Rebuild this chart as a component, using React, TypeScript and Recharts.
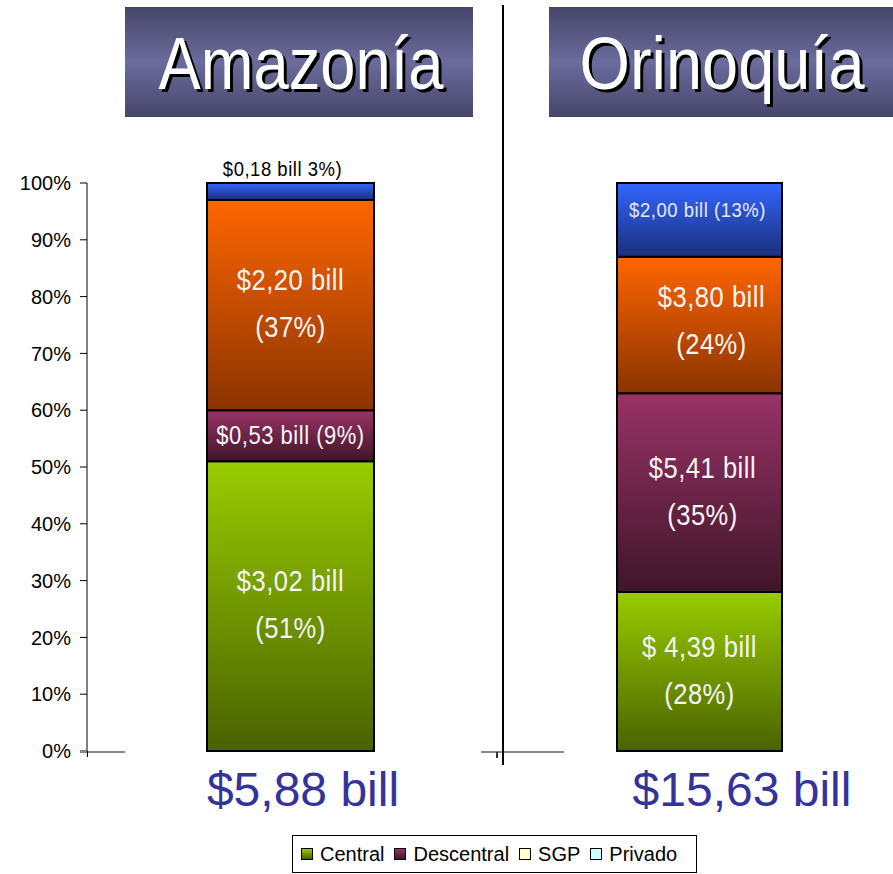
import React from "react";
import { BarChart, Bar, XAxis, YAxis } from "recharts";

const regions = ["Amazonía", "Orinoquía"];
const totals = ["$5,88 bill", "$15,63 bill"];

const centralPct = [51, 28];
const descentralPct = [9, 35];
const sgpPct = [37, 24];
const privadoPct = [3, 13];

const centralBill = ["$3,02 bill", "$ 4,39 bill"];
const descentralBill = ["$0,53 bill", "$5,41 bill"];
const sgpBill = ["$2,20 bill", "$3,80 bill"];
const privadoBill = ["$0,18 bill", "$2,00 bill"];

const yTicks = [0, 10, 20, 30, 40, 50, 60, 70, 80, 90, 100];

const SANS = '"Liberation Sans", Arial, sans-serif';

type SeriesDef = {
  key: string;
  name: string;
  values: number[];
  bills: string[];
  top: string;
  bottom: string;
  legend: string;
};

const series: SeriesDef[] = [
  { key: "central", name: "Central", values: centralPct, bills: centralBill, top: "#99cc00", bottom: "#4a6200", legend: "" },
  { key: "descentral", name: "Descentral", values: descentralPct, bills: descentralBill, top: "#993366", bottom: "#3f1529", legend: "" },
  { key: "sgp", name: "SGP", values: sgpPct, bills: sgpBill, top: "#ff6600", bottom: "#8a3300", legend: "#ffffcc" },
  { key: "privado", name: "Privado", values: privadoPct, bills: privadoBill, top: "#3366ff", bottom: "#1a2f78", legend: "#ccffff" },
];

type Layout = { mode: "two" | "one" | "above"; size: number; dx?: number; dy?: number; color?: string };

const labelLayout: Record<string, Layout>[] = [
  {
    central: { mode: "two", size: 29 },
    descentral: { mode: "one", size: 25 },
    sgp: { mode: "two", size: 29 },
    privado: { mode: "above", size: 21, dx: -8, color: "#000" },
  },
  {
    central: { mode: "two", size: 29 },
    descentral: { mode: "two", size: 29, dx: 3 },
    sgp: { mode: "two", size: 29, dx: 12, dy: -3 },
    privado: { mode: "one", size: 21, dx: -2, dy: -10, color: "#e6eaff" },
  },
];

// narrow-ish label text: Arial metrics squeezed horizontally
const Txt = ({ x, y, size, fill, children }: any) => (
  <text
    transform={`translate(${x},${y}) scale(0.88,1)`}
    textAnchor="middle"
    dominantBaseline="central"
    fill={fill}
    letterSpacing={0.6}
    style={{ fontFamily: SANS, fontSize: size }}>
    {children}
  </text>
);

const makeLabel = (r: number, s: SeriesDef) => (props: any) => {
  const { x, y, width, height } = props;
  const lay = labelLayout[r][s.key];
  const cx = Number(x) + Number(width) / 2 + (lay.dx || 0);
  const cy = Number(y) + Number(height) / 2 + (lay.dy || 0);
  const bill = s.bills[r];
  const pct = s.values[r];
  const fill = lay.color || "#f6f6f6";
  if (lay.mode === "two") {
    return (
      <g>
        <Txt x={cx} y={cy - 25} size={lay.size} fill={fill}>{bill}</Txt>
        <Txt x={cx} y={cy + 22} size={lay.size} fill={fill}>{`(${pct}%)`}</Txt>
      </g>
    );
  }
  if (lay.mode === "one") {
    return <Txt x={cx} y={cy} size={lay.size} fill={fill}>{`${bill} (${pct}%)`}</Txt>;
  }
  return <Txt x={cx} y={Number(y) - 14} size={lay.size} fill={fill}>{`${bill} ${pct}%)`}</Txt>;
};

const RegionChart = ({ r, showAxis }: { r: number; showAxis: boolean }) => {
  const row: Record<string, any> = { region: regions[r] };
  series.forEach((s) => {
    row[s.key] = s.values[r];
  });
  return (
    <BarChart
      width={showAxis ? 494 : 187}
      height={760}
      data={[row]}
      margin={{ top: 183, right: 0, bottom: 9, left: 0 }}
      barSize={showAxis ? 167 : 165}>
      <defs>
        {series.map((s) => (
          <linearGradient key={s.key} id={`g${r}-${s.key}`} x1="0" y1="0" x2="0" y2="1">
            <stop offset="0%" stopColor={s.top} />
            <stop offset="100%" stopColor={s.bottom} />
          </linearGradient>
        ))}
      </defs>
      <XAxis dataKey="region" hide />
      <YAxis
        hide={!showAxis}
        domain={[0, 100]}
        ticks={yTicks}
        interval={0}
        width={87}
        tickFormatter={(v) => `${v}%`}
        axisLine={{ stroke: "#000" }}
        tickLine={{ stroke: "#000" }}
        tickSize={7}
        tickMargin={9}
        tick={{ fill: "#000", fontSize: 20, fontFamily: SANS }}
      />
      {series.map((s) => (
        <Bar
          key={s.key}
          dataKey={s.key}
          stackId="a"
          fill={`url(#g${r}-${s.key})`}
          stroke="#000"
          strokeWidth={2}
          isAnimationActive={false}
          label={makeLabel(r, s)}
        />
      ))}
    </BarChart>
  );
};

const App = () => {
  return (
    <div
      style={{
        position: "absolute",
        left: 0,
        top: 0,
        width: 893,
        height: 874,
        overflow: "hidden",
        background: "#fff",
        fontFamily: SANS,
      }}>
      <div style={{ position: "absolute", left: 0, top: 0 }}>
        <RegionChart r={0} showAxis />
      </div>
      <div style={{ position: "absolute", left: 606, top: 0 }}>
        <RegionChart r={1} showAxis={false} />
      </div>

      {/* short category axis stubs + divider */}
      <div style={{ position: "absolute", left: 80, top: 751, width: 45, height: 2, background: "#888" }} />
      <div style={{ position: "absolute", left: 87, top: 751, width: 1, height: 6, background: "#000" }} />
      <div style={{ position: "absolute", left: 481, top: 751, width: 83, height: 2, background: "#888" }} />
      <div style={{ position: "absolute", left: 496, top: 752, width: 2, height: 6, background: "#333" }} />
      <div style={{ position: "absolute", left: 502, top: 5, width: 2, height: 760, background: "#000" }} />

      <svg
        width={893}
        height={874}
        style={{ position: "absolute", left: 0, top: 0, pointerEvents: "none" }}>
        <defs>
          <linearGradient id="titleGrad" x1="0" y1="0" x2="0" y2="1">
            <stop offset="0%" stopColor="#46466a" />
            <stop offset="50%" stopColor="#6b6b9d" />
            <stop offset="100%" stopColor="#46466a" />
          </linearGradient>
        </defs>
        {[
          { x: 125, w: 348, tx: 301 },
          { x: 549, w: 344, tx: 722 },
        ].map((b, i) => (
          <g key={i}>
            <rect x={b.x} y={7} width={b.w} height={110} fill="url(#titleGrad)" />
            <text
              x={b.tx + 3}
              y={92}
              textAnchor="middle"
              textLength={285}
              lengthAdjust="spacingAndGlyphs"
              fill="#000"
              style={{ fontFamily: SANS, fontSize: 74 }}>
              {regions[i]}
            </text>
            <text
              x={b.tx}
              y={89}
              textAnchor="middle"
              textLength={285}
              lengthAdjust="spacingAndGlyphs"
              fill="#fff"
              style={{ fontFamily: SANS, fontSize: 74 }}>
              {regions[i]}
            </text>
          </g>
        ))}
        {[303, 742].map((x, i) => (
          <text
            key={i}
            x={x}
            y={806}
            textAnchor="middle"
            fill="#333399"
            style={{ fontFamily: SANS, fontSize: 48 }}>
            {totals[i]}
          </text>
        ))}
      </svg>

      <div
        style={{
          position: "absolute",
          left: 292,
          top: 835,
          width: 405,
          height: 38,
          boxSizing: "border-box",
          border: "1px solid #000",
          display: "flex",
          alignItems: "center",
          paddingLeft: 8,
          fontSize: 20,
          color: "#000",
        }}>
        {series.map((s) => (
          <div key={s.key} style={{ display: "flex", alignItems: "center", marginRight: 10 }}>
            <span
              style={{
                display: "inline-block",
                width: 10,
                height: 10,
                border: "1px solid #000",
                background: s.legend || `linear-gradient(${s.top}, ${s.bottom})`,
                marginRight: 7,
              }}
            />
            <span>{s.name}</span>
          </div>
        ))}
      </div>
    </div>
  );
};

export default App;
